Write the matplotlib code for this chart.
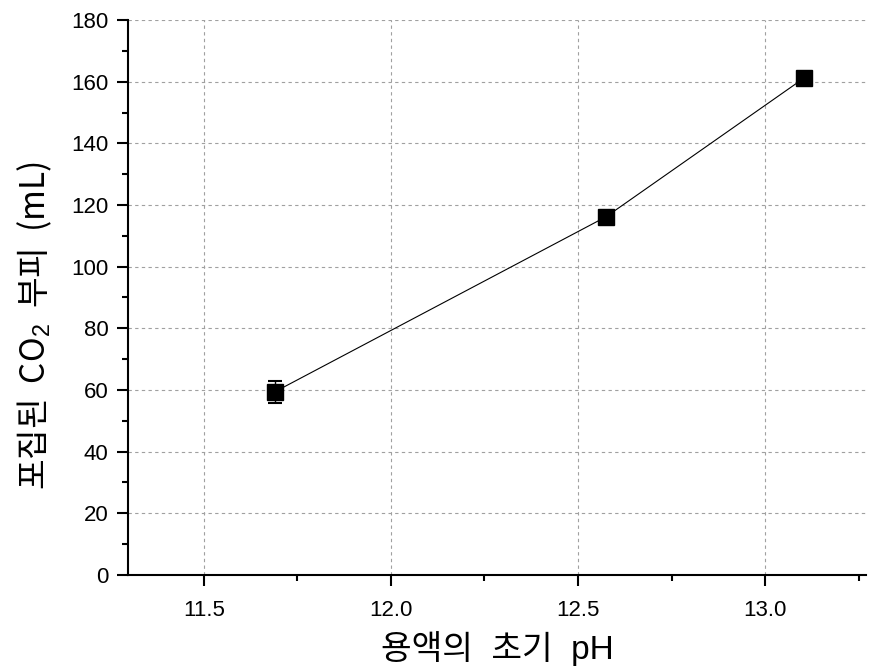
import matplotlib
matplotlib.use("Agg")
from matplotlib import pyplot as plt
from matplotlib.ticker import MultipleLocator

ph = [11.69, 12.575, 13.105]
co2 = [59.4, 116.2, 161.3]
co2_err = [3.6, 0.0, 0.0]

plt.rcParams['font.family'] = ['Liberation Sans', 'Noto Sans CJK KR', 'DejaVu Sans']
plt.rcParams['mathtext.fontset'] = 'custom'
plt.rcParams['mathtext.rm'] = 'Liberation Sans'
plt.rcParams['mathtext.it'] = 'Liberation Sans'

fig = plt.figure(figsize=(8.75, 6.7), dpi=100)
ax = fig.add_axes([0.146, 0.142, 0.844, 0.828])

ax.plot(ph, co2, color='black', lw=0.8, zorder=2)
ax.errorbar(ph, co2, yerr=co2_err, fmt='s', color='black', ms=11,
            ecolor='black', elinewidth=1.0, capsize=5, capthick=1.5, zorder=3)

ax.set_xlim(11.297, 13.27)
ax.set_ylim(0, 180)
ax.xaxis.set_major_locator(MultipleLocator(0.5))
ax.xaxis.set_minor_locator(MultipleLocator(0.25))
ax.yaxis.set_major_locator(MultipleLocator(20))
ax.yaxis.set_minor_locator(MultipleLocator(10))

ax.grid(True, which='major', color='#a0a0a0', ls=(0, (3, 3)), lw=0.8)
ax.spines['top'].set_visible(False)
ax.spines['right'].set_visible(False)
for s in ('left', 'bottom'):
    ax.spines[s].set_linewidth(1.5)

ax.tick_params(which='major', direction='out', length=8, width=1.5, labelsize=16)
ax.tick_params(which='minor', direction='out', length=4, width=1.5)
ax.tick_params(axis='x', pad=10)
ax.tick_params(axis='y', pad=6)

ax.set_xlabel('용액의  초기  pH', fontsize=24, family=['Liberation Sans', 'Noto Sans CJK KR'],
              labelpad=7)
ax.set_ylabel('포집된  CO$_2$  부피  (mL)', fontsize=24,
              family=['Noto Sans CJK KR', 'Liberation Sans'])
ax.yaxis.set_label_coords(-0.10, 0.45)

fig.savefig('out.png', dpi=100)
